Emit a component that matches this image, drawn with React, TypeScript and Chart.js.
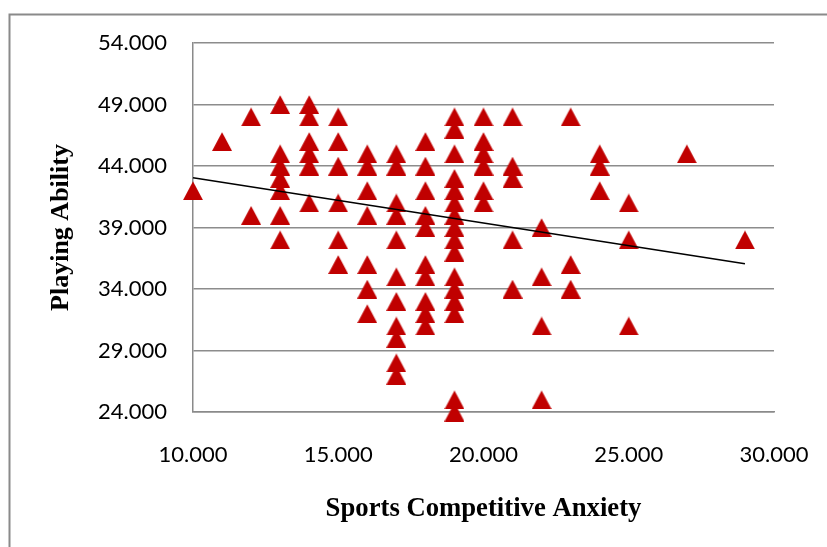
import React, { useEffect, useRef } from "react";
import { Chart, registerables } from "chart.js";

Chart.register(...registerables);

// Sports Competitive Anxiety (x) for each player
const anxietyScores = [
  10,
  11,
  12, 12,
  13, 13, 13, 13, 13, 13, 13,
  14, 14, 14, 14, 14, 14,
  15, 15, 15, 15, 15, 15,
  16, 16, 16, 16, 16, 16, 16,
  17, 17, 17, 17, 17, 17, 17, 17, 17, 17, 17,
  18, 18, 18, 18, 18, 18, 18, 18, 18, 18,
  19, 19, 19, 19, 19, 19, 19, 19, 19, 19, 19, 19, 19, 19, 19, 19,
  20, 20, 20, 20, 20, 20,
  21, 21, 21, 21, 21,
  22, 22, 22, 22,
  23, 23, 23,
  24, 24, 24,
  25, 25, 25,
  27,
  29,
];

// Playing Ability (y) for each player, same order
const playingAbility = [
  42,
  46,
  48, 40,
  49, 45, 44, 43, 42, 40, 38,
  49, 48, 46, 45, 44, 41,
  48, 46, 44, 41, 38, 36,
  45, 44, 42, 40, 36, 34, 32,
  45, 44, 41, 40, 38, 35, 33, 31, 30, 28, 27,
  46, 44, 42, 40, 39, 36, 35, 33, 32, 31,
  48, 47, 45, 43, 42, 41, 40, 39, 38, 37, 35, 34, 33, 32, 25, 24,
  48, 46, 45, 44, 42, 41,
  48, 44, 43, 38, 34,
  39, 35, 31, 25,
  48, 36, 34,
  45, 44, 42,
  41, 38, 31,
  45,
  38,
];

// Linear trendline end points
const trendAnxiety = [10, 29];
const trendAbility = [43.05, 36.05];

// Axis ranges / ticks
const xTickValues = [10, 15, 20, 25, 30];
const yTickValues = [24, 29, 34, 39, 44, 49, 54];

const xTitle = "Sports Competitive Anxiety";
const yTitle = "Playing Ability";

const W = 827;
const H = 547;

function makeTriangle(): HTMLCanvasElement {
  const c = document.createElement("canvas");
  c.width = 20;
  c.height = 19;
  const g = c.getContext("2d")!;
  g.fillStyle = "#C00000";
  g.beginPath();
  g.moveTo(10, 0.3);
  g.lineTo(20, 19);
  g.lineTo(0, 19);
  g.closePath();
  g.fill();
  return c;
}

const frameBorder = {
  id: "frameBorder",
  beforeDraw(chart: any) {
    const ctx = chart.ctx;
    ctx.save();
    ctx.strokeStyle = "#8a8a8a";
    ctx.lineWidth = 2;
    ctx.beginPath();
    ctx.moveTo(9.5, H + 20);
    ctx.lineTo(9.5, 14.5);
    ctx.lineTo(W + 20, 14.5);
    ctx.stroke();
    ctx.restore();
  },
};

export default function App() {
  const ref = useRef<HTMLCanvasElement | null>(null);

  useEffect(() => {
    if (!ref.current) return;
    const tri = makeTriangle();
    const points = anxietyScores.map((x, i) => ({ x, y: playingAbility[i] }));
    const trend = trendAnxiety.map((x, i) => ({ x, y: trendAbility[i] }));

    const chart = new Chart(ref.current, {
      type: "scatter",
      data: {
        datasets: [
          {
            type: "line",
            label: "Trend",
            data: trend,
            borderColor: "#000000",
            borderWidth: 1.5,
            pointRadius: 0,
            fill: false,
            showLine: true,
            clip: false as any,
            order: 0,
          } as any,
          {
            label: "Players",
            data: points,
            pointStyle: tri as any,
            pointRadius: 10,
            pointHoverRadius: 10,
            backgroundColor: "#C00000",
            borderColor: "#C00000",
            clip: false as any,
            order: 1,
          } as any,
        ],
      },
      options: {
        responsive: false,
        animation: false,
        devicePixelRatio: 1,
        events: [],
        layout: { padding: { left: 0, top: 43, right: 53, bottom: 0 } },
        plugins: {
          legend: { display: false },
          tooltip: { enabled: false },
          title: { display: false },
        },
        scales: {
          x: {
            type: "linear",
            min: xTickValues[0],
            max: xTickValues[xTickValues.length - 1],
            afterBuildTicks: (scale: any) => {
              scale.ticks = xTickValues.map((v) => ({ value: v }));
            },
            afterFit: (scale: any) => {
              scale.height = H - 412;
              scale.paddingLeft = 0;
              scale.paddingRight = 0;
            },
            grid: { display: false, drawTicks: false, tickLength: 0 },
            border: { display: true, color: "#8a8a8a", width: 1.5 },
            ticks: {
              padding: 30,
              color: "#000000",
              font: { family: "Lato", size: 22 },
              callback: (v: any) => Number(v).toFixed(3),
              maxRotation: 0,
            },
            title: {
              display: true,
              text: xTitle,
              color: "#000000",
              font: { family: "Liberation Serif", size: 26.7, weight: "bold" },
              padding: { top: 0, bottom: 22 },
            },
          },
          y: {
            type: "linear",
            min: yTickValues[0],
            max: yTickValues[yTickValues.length - 1],
            afterBuildTicks: (scale: any) => {
              scale.ticks = yTickValues.map((v) => ({ value: v }));
            },
            afterFit: (scale: any) => {
              scale.width = 193;
              scale.paddingTop = 0;
              scale.paddingBottom = 0;
            },
            grid: {
              display: true,
              color: "#8c8c8c",
              lineWidth: 1.5,
              drawTicks: false,
              tickLength: 0,
            },
            border: { display: true, color: "#8a8a8a", width: 1.5 },
            ticks: {
              padding: 26,
              color: "#000000",
              font: { family: "Lato", size: 22 },
              callback: (v: any) => Number(v).toFixed(3),
            },
            title: {
              display: true,
              text: yTitle,
              color: "#000000",
              font: { family: "Liberation Serif", size: 26, weight: "bold" },
              padding: { top: 46, bottom: 0 },
            },
          },
        },
      } as any,
      plugins: [frameBorder],
    });

    return () => {
      chart.destroy();
    };
  }, []);

  return (
    <div
      style={{
        position: "fixed",
        left: 0,
        top: 0,
        width: W,
        height: H,
        background: "#ffffff",
        overflow: "hidden",
      }}
    >
      <canvas
        ref={ref}
        width={W}
        height={H}
        style={{ display: "block", width: W, height: H }}
      />
    </div>
  );
}
